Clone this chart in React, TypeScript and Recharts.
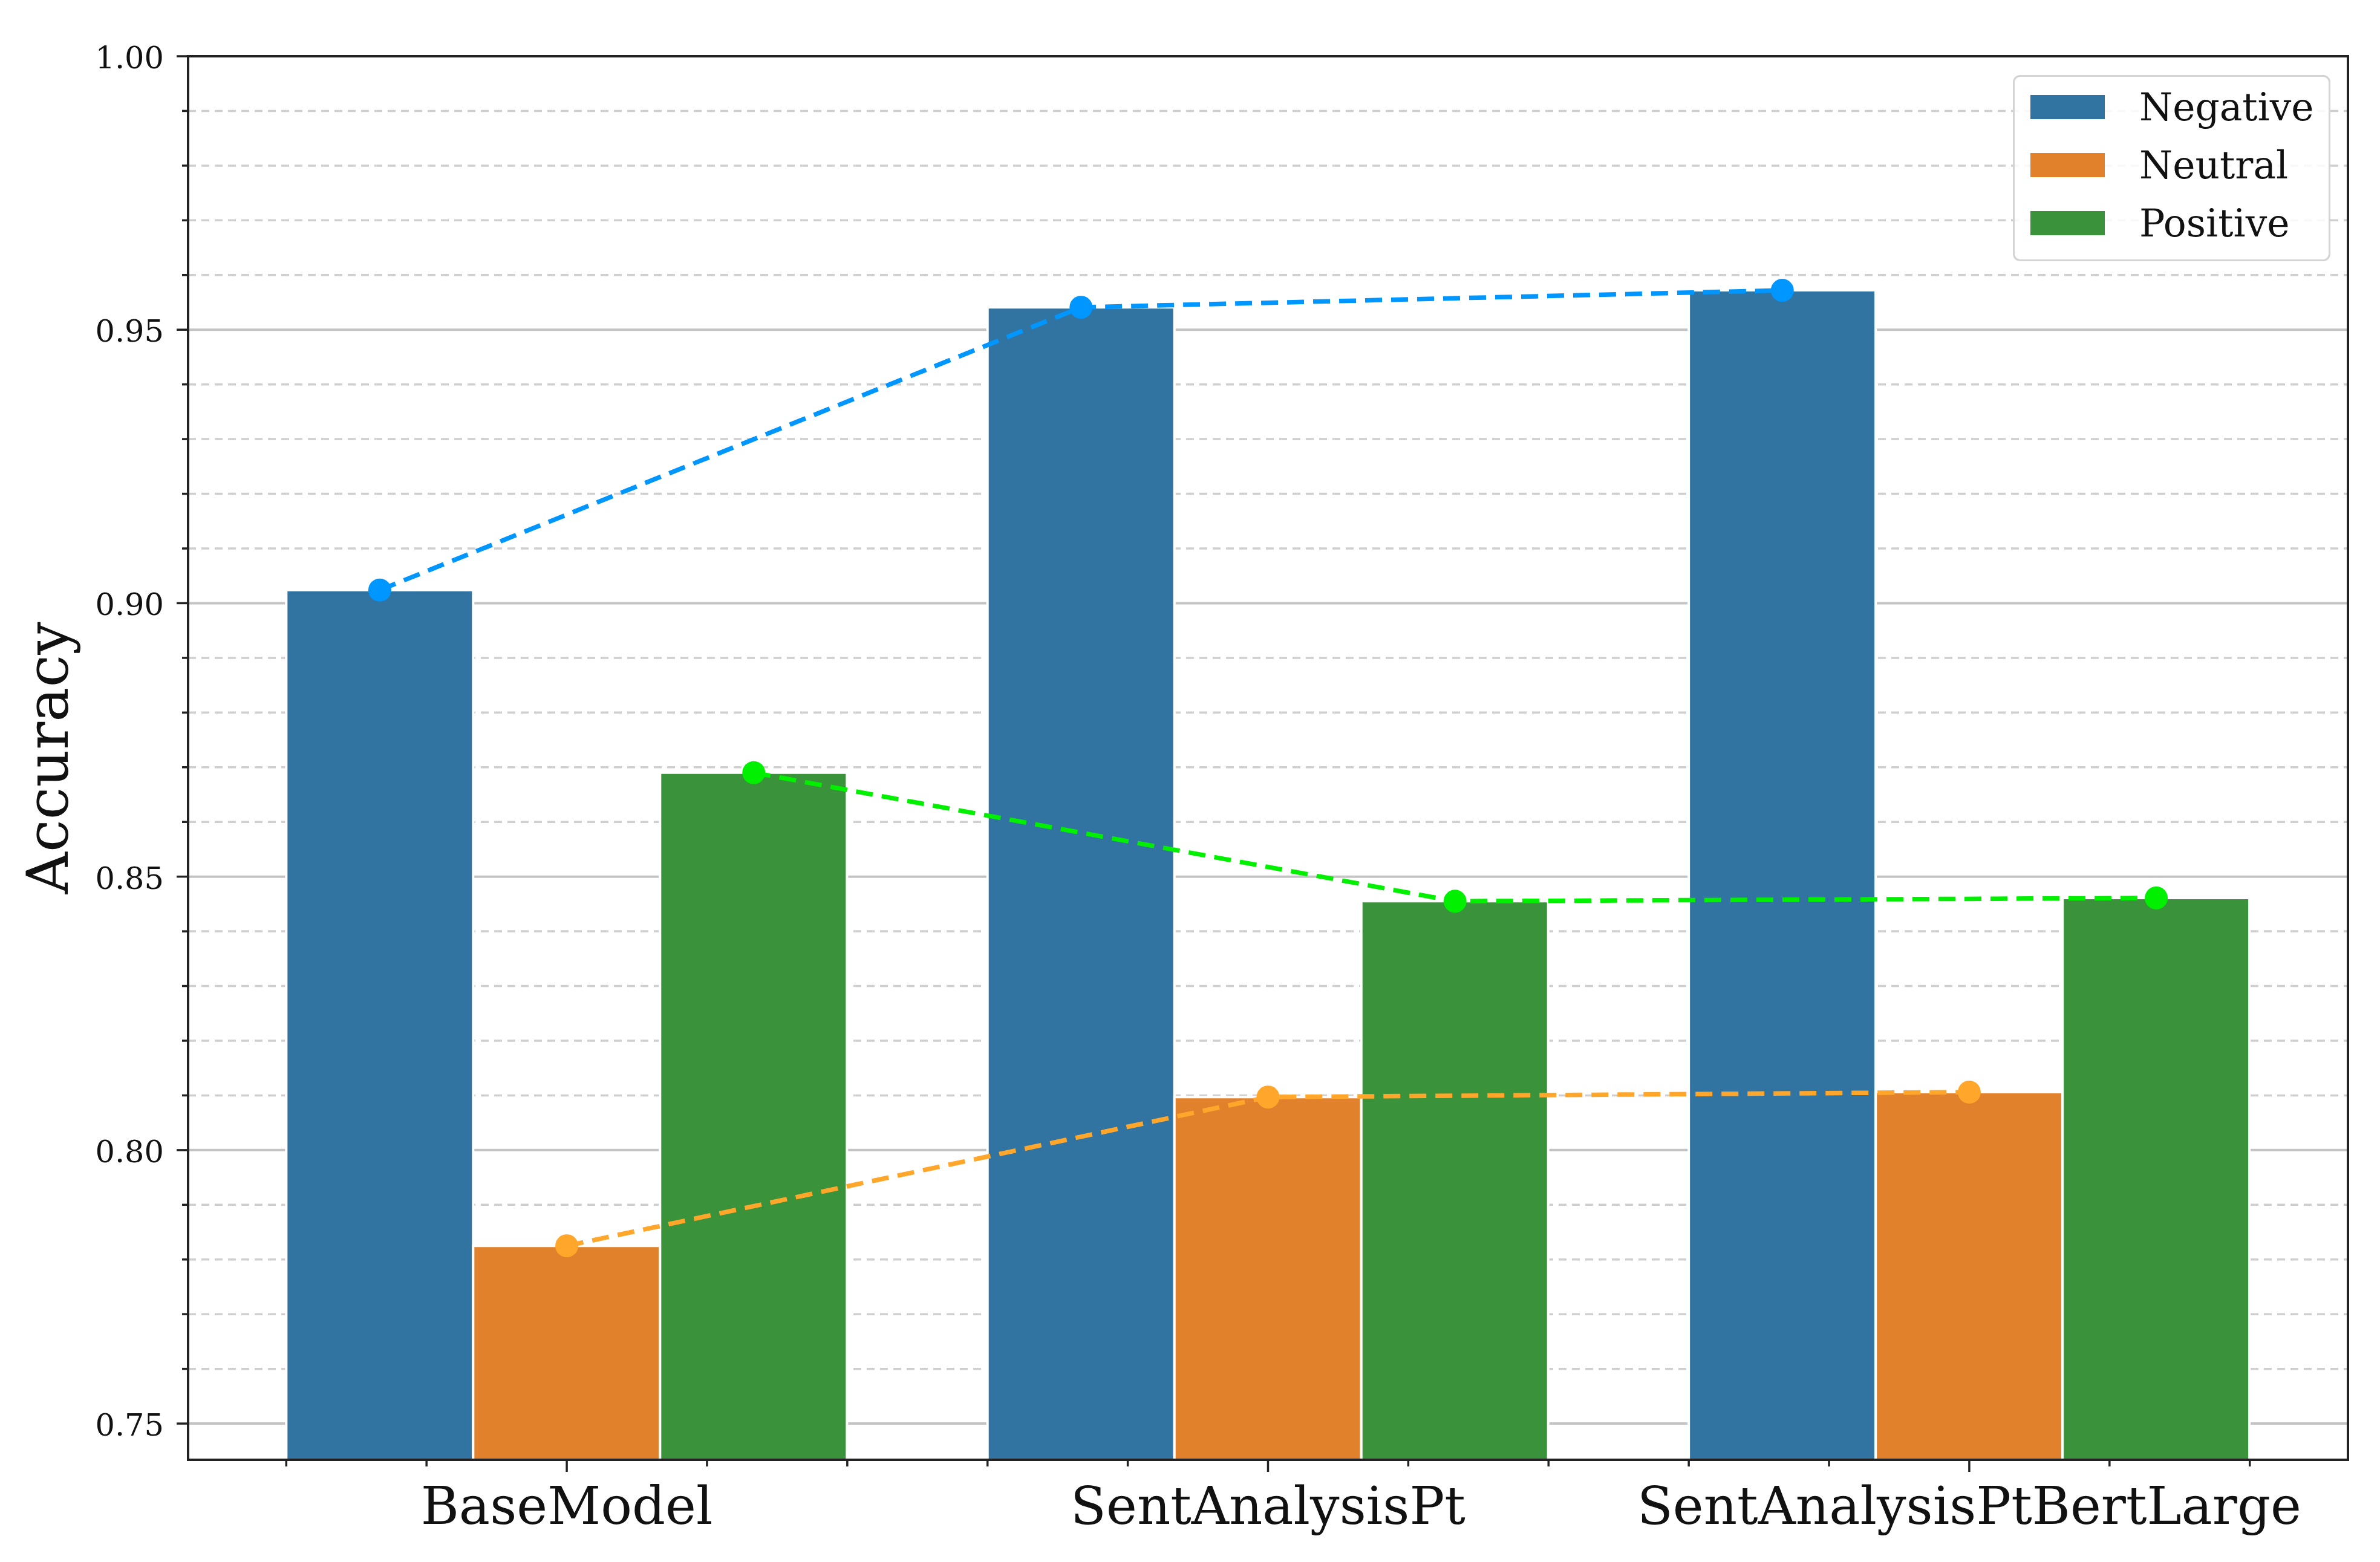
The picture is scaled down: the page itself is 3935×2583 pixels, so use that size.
// Grouped accuracy bars per model with dashed trend lines per sentiment class
import {
  ComposedChart,
  Bar,
  Line,
  XAxis,
  YAxis,
  CartesianGrid,
  Legend,
  ReferenceArea,
} from "recharts";

const models = ["BaseModel", "SentAnalysisPt", "SentAnalysisPtBertLarge"];
const negative = [0.9024, 0.9541, 0.9572];
const neutral = [0.7825, 0.8097, 0.8106];
const positive = [0.869, 0.8455, 0.8461];

const seriesNames = ["Negative", "Neutral", "Positive"];
const seriesValues = [negative, neutral, positive];
const barColors = ["#3274a1", "#e1812c", "#3a923a"];
const lineColors = ["#0096ff", "#ffa62b", "#00f000"];

const yMajorTicks = [0.75, 0.8, 0.85, 0.9, 0.95, 1.0];
const yMinorTicks = Array.from({ length: 26 }, (_, k) => (75 + k) / 100).filter(
  (v) => !yMajorTicks.some((t) => Math.abs(t - v) < 1e-9)
);
const yAllTicks = [...yMajorTicks, ...yMinorTicks].sort((a, b) => a - b);

// matplotlib-style limits: bars span +-0.4 around each group, 5% margin
const barGroupWidth = 0.8;
const xLo = -barGroupWidth / 2 - 0.05 * (models.length - 1 + barGroupWidth);
const xHi = models.length - 1 + barGroupWidth / 2 + 0.05 * (models.length - 1 + barGroupWidth);
const xTicks = Array.from({ length: 15 }, (_, k) => (k - 2) / 5);
const yMin = Math.min(...neutral) * 0.95;

const W = 3935;
const H = 2583;
const margin = { top: 93, right: 53, bottom: 0, left: 0 };
const yAxisWidth = 311;
const xAxisHeight = 169;
const plotW = W - margin.left - margin.right - yAxisWidth;
const catPad = (plotW * (-0.5 - xLo)) / (xHi - xLo);

const FONT = "DejaVu Serif";
const INK = "#222222";

const rows = models.map((m, i) => ({
  model: m,
  Negative: negative[i],
  Neutral: neutral[i],
  Positive: positive[i],
}));

const barStep = barGroupWidth / seriesNames.length;
const lineData = seriesValues.map((vals, s) =>
  vals.map((v, i) => ({ x: i + (s - 1) * barStep, y: v }))
);

function YTick({ x, y, payload }: any) {
  const v = payload.value as number;
  const major = yMajorTicks.some((t) => Math.abs(t - v) < 1e-9);
  return (
    <g>
      <line x1={x - (major ? 19 : 10)} x2={x} y1={y} y2={y} stroke={INK} strokeWidth={3.5} />
      {major && (
        <text x={x - 40} y={y + 20} textAnchor="end" fontSize={51} fontFamily={FONT} fill="#111">
          {v.toFixed(2)}
        </text>
      )}
    </g>
  );
}

function XTick({ x, y, payload }: any) {
  const k = Math.round((payload.value as number) * 5);
  const major = k % 5 === 0;
  return (
    <g>
      <line x1={x} x2={x} y1={y} y2={y + (major ? 20 : 11)} stroke={INK} strokeWidth={3.5} />
      {major && (
        <text x={x} y={y + 106} textAnchor="middle" fontSize={86} fontFamily={FONT} fill="#111">
          {models[k / 5]}
        </text>
      )}
    </g>
  );
}

function LegendBox() {
  return (
    <div
      style={{
        boxSizing: "border-box",
        width: 525,
        height: 308,
        border: "3px solid #d4d4d4",
        borderRadius: 12,
        background: "rgba(255,255,255,0.85)",
        paddingTop: 2,
        fontFamily: FONT,
      }}
    >
      {seriesNames.map((name, i) => (
        <div key={name} style={{ display: "flex", alignItems: "center", height: 96 }}>
          <div style={{ marginLeft: 26, width: 123, height: 40, background: barColors[i] }} />
          <span style={{ marginLeft: 57, fontSize: 63, color: "#111", lineHeight: 1 }}>{name}</span>
        </div>
      ))}
    </div>
  );
}

export default function App() {
  return (
    <div style={{ position: "absolute", left: 0, top: 0, background: "#fff" }}>
      <ComposedChart width={W} height={H} data={rows} margin={margin} barGap={0} barCategoryGap="10%">
        <CartesianGrid
          vertical={false}
          horizontalValues={yMinorTicks}
          stroke="#cfcfcf"
          strokeWidth={3.5}
          strokeDasharray="13 9"
        />
        <CartesianGrid vertical={false} horizontalValues={yMajorTicks} stroke="#c4c4c4" strokeWidth={4} />
        <XAxis
          xAxisId="num"
          type="number"
          dataKey="x"
          domain={[xLo, xHi]}
          allowDataOverflow
          ticks={xTicks}
          interval={0}
          tickSize={0}
          tickMargin={0}
          tickLine={false}
          tick={<XTick />}
          axisLine={{ stroke: INK, strokeWidth: 4 }}
          height={xAxisHeight}
        />
        <XAxis xAxisId="cat" dataKey="model" hide height={0} padding={{ left: catPad, right: catPad }} />
        <YAxis
          type="number"
          domain={[yMin, 1]}
          allowDataOverflow
          ticks={yAllTicks}
          interval={0}
          tickSize={0}
          tickMargin={0}
          tickLine={false}
          tick={<YTick />}
          axisLine={{ stroke: INK, strokeWidth: 4 }}
          width={yAxisWidth}
          label={({ viewBox }: any) => {
            const cx = 112;
            const cy = viewBox.y + viewBox.height / 2;
            return (
              <text
                x={cx}
                y={cy}
                transform={`rotate(-90 ${cx} ${cy})`}
                textAnchor="middle"
                fontSize={96}
                fontFamily={FONT}
                fill="#111"
              >
                Accuracy
              </text>
            );
          }}
        />
        {seriesNames.map((name, s) => (
          <Bar
            key={name}
            xAxisId="cat"
            dataKey={name}
            name={name}
            fill={barColors[s]}
            stroke="#ffffff"
            strokeWidth={4}
            isAnimationActive={false}
          />
        ))}
        {seriesNames.map((name, s) => (
          <Line
            key={`line-${name}`}
            xAxisId="num"
            data={lineData[s]}
            dataKey="y"
            type="linear"
            stroke={lineColors[s]}
            strokeWidth={7.5}
            strokeDasharray="28 15"
            dot={{ r: 19, fill: lineColors[s], stroke: "none", strokeWidth: 0 }}
            activeDot={false}
            legendType="none"
            isAnimationActive={false}
          />
        ))}
        <ReferenceArea
          xAxisId="num"
          x1={xLo}
          x2={xHi}
          y1={yMin}
          y2={1}
          fill="none"
          stroke={INK}
          strokeWidth={4}
          ifOverflow="visible"
        />
        <Legend
          layout="vertical"
          align="center"
          verticalAlign="middle"
          wrapperStyle={{ left: 3328, top: 124, width: 525 }}
          content={() => <LegendBox />}
        />
      </ComposedChart>
    </div>
  );
}
